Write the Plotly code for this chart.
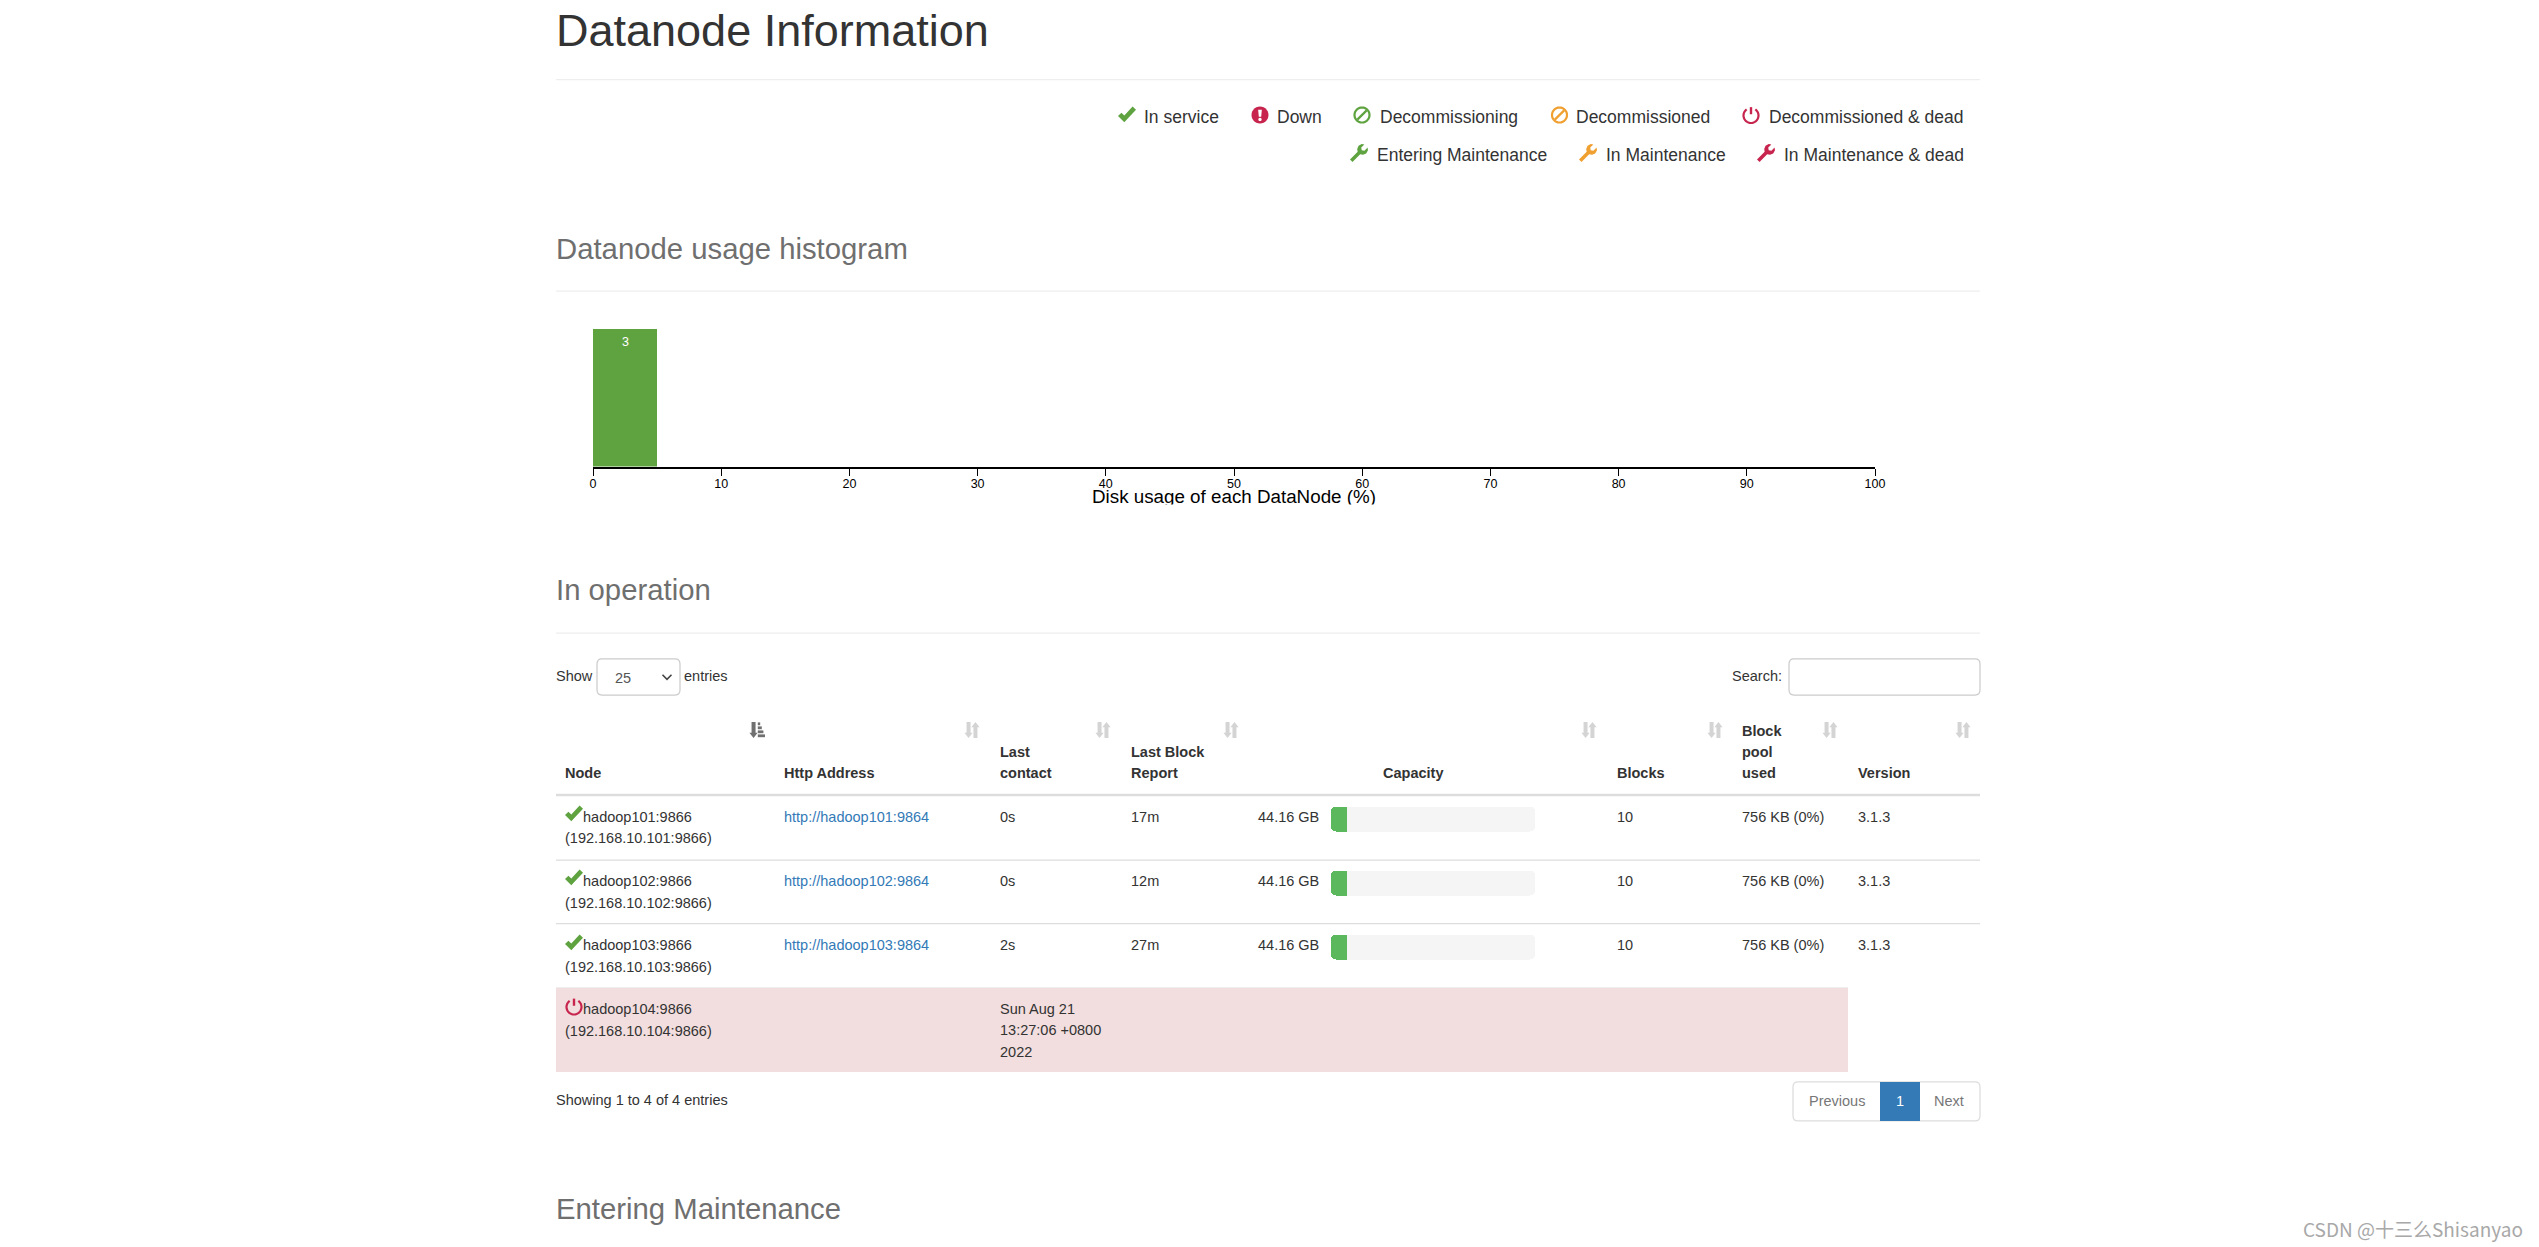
import math
import plotly.graph_objects as go

W, H = 2539, 1247

# ---------- data ----------
bin_centres = [2.5 + 5 * i for i in range(20)]
bin_counts = [3] + [0] * 19
x_ticks = [0, 10, 20, 30, 40, 50, 60, 70, 80, 90, 100]

nodes = ["hadoop101:9866", "hadoop102:9866", "hadoop103:9866", "hadoop104:9866"]
node_ips = ["(192.168.10.101:9866)", "(192.168.10.102:9866)", "(192.168.10.103:9866)", "(192.168.10.104:9866)"]
http_addresses = ["http://hadoop101:9864", "http://hadoop102:9864", "http://hadoop103:9864"]
last_contact = ["0s", "0s", "2s"]
last_block_report = ["17m", "12m", "27m"]
capacity_labels = ["44.16 GB", "44.16 GB", "44.16 GB"]
capacity_used_pct = [7.8, 7.8, 7.8]
capacity_total_pct = [100, 100, 100]
blocks = ["10", "10", "10"]
pool_used = ["756 KB (0%)", "756 KB (0%)", "756 KB (0%)"]
versions = ["3.1.3", "3.1.3", "3.1.3"]
dead_contact = ["Sun Aug 21", "13:27:06 +0800", "2022"]

legend_row1 = ["In service", "Down", "Decommissioning", "Decommissioned", "Decommissioned & dead"]
legend_row2 = ["Entering Maintenance", "In Maintenance", "In Maintenance & dead"]

# ---------- styles ----------
FONT = "Liberation Sans"
GREEN, RED, ORANGE = "#5fa341", "#c7254e", "#f0a030"
TXT, GREY, LINK = "#333333", "#6f6f6f", "#337ab7"
annos, shapes = [], []


def px(x):
    return x / W


def py(y):
    return 1 - y / H


def text(x, y, s, size=14.5, color=TXT, anchor="left", bold=False, family=FONT):
    if anchor == "left":
        x -= 1.5
    annos.append(dict(
        x=px(x), y=py(y), xref="paper", yref="paper", text=f"<b>{s}</b>" if bold else s,
        showarrow=False, xanchor=anchor, yanchor="middle", borderpad=0,
        font=dict(family=family, size=size, color=color)))


def line(x0, y0, x1, y1, color, width):
    shapes.append(dict(type="line", xref="paper", yref="paper", x0=px(x0), x1=px(x1),
                       y0=py(y0), y1=py(y1), line=dict(color=color, width=width)))


def path(d, fill=None, stroke=None, width=0):
    shapes.append(dict(type="path", xref="paper", yref="paper", path=d,
                       fillcolor=fill or "rgba(0,0,0,0)",
                       line=dict(color=stroke or "rgba(0,0,0,0)", width=width)))


def pt(x, y):
    return f"{px(x):.6f},{py(y):.6f}"


def poly(points, cx, cy, rx, ry=None, close=True):
    ry = ry or rx
    d = "M" + " L".join(pt(cx + a * rx, cy + b * ry) for a, b in points)
    return d + (" Z" if close else "")


def rrect(x0, y0, x1, y1, r):
    return (f"M{pt(x0 + r, y0)} L{pt(x1 - r, y0)} Q{pt(x1, y0)} {pt(x1, y0 + r)} "
            f"L{pt(x1, y1 - r)} Q{pt(x1, y1)} {pt(x1 - r, y1)} L{pt(x0 + r, y1)} "
            f"Q{pt(x0, y1)} {pt(x0, y1 - r)} L{pt(x0, y0 + r)} Q{pt(x0, y0)} {pt(x0 + r, y0)} Z")


def arc(a0, a1, n=28):
    return [(math.sin(math.radians(a0 + (a1 - a0) * i / n)),
             -math.cos(math.radians(a0 + (a1 - a0) * i / n))) for i in range(n + 1)]


CHECK = [(-1, 0.12), (-0.62, -0.26), (-0.3, 0.06), (0.62, -1), (1, -0.62), (-0.3, 0.86)]
WRENCH = [(-1, 0.72), (-0.15, -0.13), (-0.2, -0.45), (-0.05, -0.8), (0.3, -1), (0.6, -0.95),
          (0.25, -0.6), (0.3, -0.3), (0.6, -0.25), (0.95, -0.6), (1, -0.3), (0.8, 0.05),
          (0.45, 0.2), (0.13, 0.15), (-0.72, 1)]


def icon(kind, cx, cy, color, r=8.5):
    if kind == "check":
        path(poly(CHECK, cx, cy, r + 0.5, r), fill=color)
    elif kind == "wrench":
        path(poly(WRENCH, cx, cy, r + 0.5), fill=color)
    elif kind == "down":
        path(poly(arc(0, 360), cx, cy, r), fill=color)
        path(poly([(-0.22, -0.62), (0.22, -0.62), (0.14, 0.22), (-0.14, 0.22)], cx, cy, r), fill="#ffffff")
        path(poly(arc(0, 360, 12), cx, cy + r * 0.52, r * 0.2), fill="#ffffff")
    elif kind == "ban":
        path(poly(arc(0, 360), cx, cy, r - 1), stroke=color, width=2.2)
        path(poly([(-0.62, 0.62), (0.62, -0.62)], cx, cy, r - 1, close=False), stroke=color, width=2.2)
    elif kind == "power":
        path(poly(arc(35, 325), cx, cy + 0.5, r - 1, close=False), stroke=color, width=2.2)
        path(poly([(0, -1.05), (0, -0.1)], cx, cy, r - 1, close=False), stroke=color, width=2.4)


SORT_L = [(-0.68, -1), (-0.18, -1), (-0.18, 0.35), (0.08, 0.35), (-0.43, 1), (-0.95, 0.35), (-0.68, 0.35)]
SORT_R = [(0.68, 1), (0.18, 1), (0.18, -0.35), (-0.08, -0.35), (0.43, -1), (0.95, -0.35), (0.68, -0.35)]


def sort_icon(cx, cy, active=False):
    if active:
        c = "#707070"
        path(poly(SORT_L, cx, cy, 8), fill=c)
        for i, w in enumerate([0.4, 0.6, 0.8, 1.0]):
            path(poly([(0.1, -0.95 + i * 0.5), (w, -0.95 + i * 0.5), (w, -0.6 + i * 0.5), (0.1, -0.6 + i * 0.5)],
                      cx, cy, 8), fill=c)
    else:
        path(poly(SORT_L, cx, cy, 8), fill="#d4d4d4")
        path(poly(SORT_R, cx, cy, 8), fill="#d4d4d4")


# ---------- page headings ----------
text(556, 30, "Datanode Information", size=45)
for y in (79.5, 291, 633):
    line(556, y, 1980, y, "#eeeeee", 1.25)
text(556, 248, "Datanode usage histogram", size=29.3, color=GREY)
text(556, 589.5, "In operation", size=29.3, color=GREY)
text(556, 1208.5, "Entering Maintenance", size=29.3, color=GREY)

# ---------- status legend ----------
row1_icons = [("check", GREEN, 1127), ("down", RED, 1260), ("ban", GREEN, 1362), ("ban", ORANGE, 1559.5), ("power", RED, 1751)]
row1_text_x = [1144, 1277, 1380, 1576, 1769]
for (k, c, ix), tx, lab in zip(row1_icons, row1_text_x, legend_row1):
    icon(k, ix, 115, c)
    text(tx, 117, lab, size=17.5)
row2_icons = [(GREEN, 1359), (ORANGE, 1588), (RED, 1766)]
row2_text_x = [1377, 1606, 1784]
for (c, ix), tx, lab in zip(row2_icons, row2_text_x, legend_row2):
    icon("wrench", ix, 153, c)
    text(tx, 155, lab, size=17.5)

# ---------- histogram label, clipped by its box like the reference ----------
text(1234, 496.5, "Disk usage of each DataNode (%)", size=18.8, color="#000000", anchor="center")
annos.append(dict(x=px(1234), y=py(503.5), xref="paper", yref="paper", text="&nbsp;", showarrow=False,
                  xanchor="center", yanchor="top", width=420, height=10, bgcolor="#ffffff", borderpad=0,
                  font=dict(family=FONT, size=8, color="#ffffff")))
for c, v in zip(bin_centres, bin_counts):
    if v:
        annos.append(dict(x=c, y=v, xref="x", yref="y", text=str(v), showarrow=False, xanchor="center",
                          yanchor="top", yshift=-5, borderpad=0,
                          font=dict(family=FONT, size=12.5, color="#ffffff")))

# ---------- table controls ----------
text(556, 676, "Show", size=14.5)
path(rrect(597, 659, 680, 695, 5), fill="#ffffff", stroke="#cccccc", width=1.25)
text(615, 677.5, "25", size=14.5, color="#555555")
path(poly([(-1, -0.5), (0, 0.5), (1, -0.5)], 667, 677, 4.5, close=False), stroke="#444444", width=1.6)
text(684, 676, "entries", size=14.5)
text(1732, 676, "Search:", size=14.5)
path(rrect(1789, 659, 1980, 695, 5), fill="#ffffff", stroke="#cccccc", width=1.25)

# ---------- table header ----------
sort_icon(757, 730, active=True)
for sx in (972, 1103, 1231, 1589, 1715, 1830, 1963):
    sort_icon(sx, 730)
Y1, Y2, Y3 = 731, 752, 773
for x, y, s in [(565, Y3, "Node"), (784, Y3, "Http Address"), (1000, Y2, "Last"), (1000, Y3, "contact"),
                (1131, Y2, "Last Block"), (1131, Y3, "Report"), (1617, Y3, "Blocks"),
                (1742, Y1, "Block"), (1742, Y2, "pool"), (1742, Y3, "used"), (1858, Y3, "Version")]:
    text(x, y, s, bold=True)
text(1413, Y3, "Capacity", bold=True, anchor="center")
line(556, 795, 1980, 795, "#dddddd", 2.5)

# ---------- table rows ----------
row_lines = [860, 923.5, 988]
row_line_end = [1980, 1980, 1848]
line1_y = [817, 881, 945]
line2_y = [838, 903, 967]
icon_y = [814, 878, 943]
for i in range(3):
    line(556, row_lines[i], row_line_end[i], row_lines[i], "#dddddd", 1.25)
    icon("check", 574, icon_y[i], GREEN)
    text(583, line1_y[i], nodes[i])
    text(565, line2_y[i], node_ips[i])
    text(784, line1_y[i], http_addresses[i], color=LINK)
    text(1000, line1_y[i], last_contact[i])
    text(1131, line1_y[i], last_block_report[i])
    text(1258, line1_y[i], capacity_labels[i])
    text(1617, line1_y[i], blocks[i])
    text(1742, line1_y[i], pool_used[i])
    text(1858, line1_y[i], versions[i])

path(f"M{pt(556, 988)} L{pt(1848, 988)} L{pt(1848, 1072)} L{pt(556, 1072)} Z", fill="#f2dede")
icon("power", 574, 1006.5, RED)
text(583, 1009, nodes[3])
text(565, 1031, node_ips[3])
for y, s in zip((1009, 1030, 1052), dead_contact):
    text(1000, y, s)

# ---------- table footer ----------
text(556, 1100, "Showing 1 to 4 of 4 entries", size=14.5)
path(rrect(1793, 1082, 1980, 1121, 5), fill="#ffffff", stroke="#dddddd", width=1.25)
path(f"M{pt(1880, 1082)} L{pt(1920, 1082)} L{pt(1920, 1121)} L{pt(1880, 1121)} Z", fill="#337ab7")
text(1837, 1101, "Previous", color="#777777", anchor="center")
text(1900, 1101, "1", color="#ffffff", anchor="center")
text(1949, 1101, "Next", color="#777777", anchor="center")

# ---------- watermark ----------
text(2303, 1228, "CSDN @十三么Shisanyao", size=19, color="#a8a8a8", family="Noto Sans CJK SC")

# ---------- traces ----------
fig = go.Figure()
fig.add_trace(go.Bar(
    x=bin_centres, y=bin_counts, width=5, marker=dict(color=GREEN, line=dict(width=0)),
    hoverinfo="skip", xaxis="x", yaxis="y", showlegend=False))

bar_nodes = nodes[:3]
ROW_PITCH = 64
bar_top = 818.5 - ROW_PITCH / 2
bar_bottom = 946.5 + ROW_PITCH / 2
n = len(bar_nodes)
# An explicit base makes Plotly round both ends of a bar. The used bar gets a second,
# square-cornered piece over its right half so only its left end stays rounded.
fig.add_trace(go.Bar(
    y=bar_nodes, x=capacity_total_pct, base=[0] * n, orientation="h", width=25 / ROW_PITCH,
    marker=dict(color="#f5f5f5", line=dict(width=0), cornerradius=5), hoverinfo="skip",
    xaxis="x2", yaxis="y2", showlegend=False))
fig.add_trace(go.Bar(
    y=bar_nodes, x=capacity_used_pct, base=[0] * n, orientation="h", width=25 / ROW_PITCH,
    marker=dict(color="#5cb85c", line=dict(width=0), cornerradius=5), hoverinfo="skip",
    xaxis="x2", yaxis="y2", showlegend=False))
fig.add_trace(go.Bar(
    y=bar_nodes, x=[v / 2 for v in capacity_used_pct], base=[v / 2 for v in capacity_used_pct],
    orientation="h", width=25 / ROW_PITCH,
    marker=dict(color="#5cb85c", line=dict(width=0)), hoverinfo="skip",
    xaxis="x2", yaxis="y2", showlegend=False))

fig.update_layout(
    width=W, height=H, margin=dict(l=0, r=0, t=0, b=0, autoexpand=False),
    paper_bgcolor="#ffffff", plot_bgcolor="rgba(0,0,0,0)", barmode="overlay", bargap=0,
    showlegend=False, annotations=annos, shapes=shapes,
    xaxis=dict(domain=[px(593), px(1875)], range=[0, 100], tickvals=x_ticks, ticks="outside", ticklen=7,
               tickwidth=1.25, tickcolor="#000000", showline=True, linecolor="#000000", linewidth=2,
               showgrid=False, zeroline=False, tickangle=0, fixedrange=True, ticklabelstandoff=-3,
               tickfont=dict(family=FONT, size=12.5, color="#000000"), anchor="y"),
    yaxis=dict(domain=[py(466.5), py(329)], range=[0, 3], visible=False, fixedrange=True, anchor="x"),
    xaxis2=dict(domain=[px(1331), px(1535)], range=[0, 100], visible=False, fixedrange=True, anchor="y2"),
    yaxis2=dict(domain=[py(bar_bottom), py(bar_top)], type="category", categoryorder="array",
                categoryarray=bar_nodes, range=[2.5, -0.5], visible=False, fixedrange=True, anchor="x2"),
)

fig.write_html("out.html", config=dict(displayModeBar=False),
               post_script="document.body.style.margin='0';document.body.style.overflow='hidden';")
